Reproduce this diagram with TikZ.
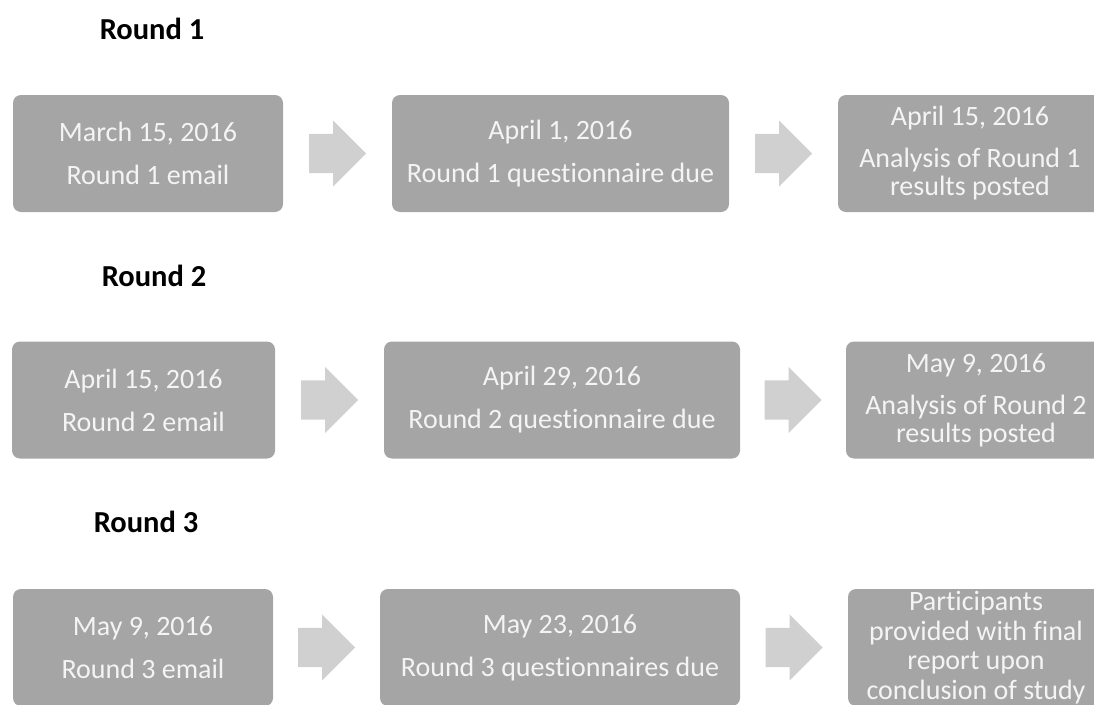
\documentclass[tikz,border=0pt]{standalone}
\usepackage{fontspec}
\setmainfont{Carlito}[Ligatures=NoCommon]
\usetikzlibrary{shapes.arrows,calc}
\definecolor{boxgray}{HTML}{A5A5A5}
\definecolor{arrowgray}{HTML}{D0D0D0}
\definecolor{boxtext}{HTML}{F4F4F4}

\begin{document}
\begin{tikzpicture}[x=1pt,y=-1pt,
  stagebox/.style={fill=boxgray,rounded corners=8pt,text=boxtext,align=center,
    minimum height=117pt,inner sep=0pt,font=\fontsize{28}{28}\selectfont},
  blockarrow/.style={single arrow,fill=arrowgray,text width=0pt,text height=19.5pt,
    text depth=19.5pt,minimum height=57pt,single arrow head extend=13.5pt,
    single arrow head indent=0pt,inner sep=0pt,anchor=tail,xshift=-28.5pt},
  roundtitle/.style={anchor=base,font=\fontsize{30.5}{36}\selectfont\bfseries}]

\useasboundingbox (0,0) rectangle (1094,704);
\clip (0,0) rectangle (1094,704);

% Round 1
\node[roundtitle] (t1) at (152,39) {Round 1};

\node[stagebox,minimum width=270pt] (r1a) at (148,153.5)
{March 15, 2016\\[15pt]Round 1 email};
\node[stagebox,minimum width=337pt] (r1b) at (560.5,153.5)
{April 1, 2016\\[15pt]Round 1 questionnaire due};
\node[stagebox,minimum width=264pt] (r1c) at (970,153.5)
{April 15, 2016\\[14pt]Analysis of Round 1\\results posted};

\node[blockarrow] (a1a) at ($(r1a.east)!0.5!(r1b.west)$) {};
\node[blockarrow] (a1b) at ($(r1b.east)!0.5!(r1c.west)$) {};

% Round 2
\node[roundtitle] (t2) at (154,286) {Round 2};

\node[stagebox,minimum width=263pt] (r2a) at (143.5,400)
{April 15, 2016\\[15pt]Round 2 email};
\node[stagebox,minimum width=356pt] (r2b) at (562,400)
{April 29, 2016\\[15pt]Round 2 questionnaire due};
\node[stagebox,minimum width=260pt] (r2c) at (976,400)
{May 9, 2016\\[14pt]Analysis of Round 2\\results posted};

\node[blockarrow] (a2a) at ($(r2a.east)!0.5!(r2b.west)$) {};
\node[blockarrow] (a2b) at ($(r2b.east)!0.5!(r2c.west)$) {};

% Round 3
\node[roundtitle] (t3) at (146,532) {Round 3};

\node[stagebox,minimum width=260pt] (r3a) at (143,647.5)
{May 9, 2016\\[15pt]Round 3 email};
\node[stagebox,minimum width=360pt] (r3b) at (560,647.5)
{May 23, 2016\\[15pt]Round 3 questionnaires due};
\node[stagebox,minimum width=256pt,font=\fontsize{28}{29.5}\selectfont] (r3c) at (976,647.5)
{Participants\\provided with final\\report upon\\conclusion of study};

\node[blockarrow] (a3a) at ($(r3a.east)!0.5!(r3b.west)$) {};
\node[blockarrow] (a3b) at ($(r3b.east)!0.5!(r3c.west)$) {};

\end{tikzpicture}
\end{document}
